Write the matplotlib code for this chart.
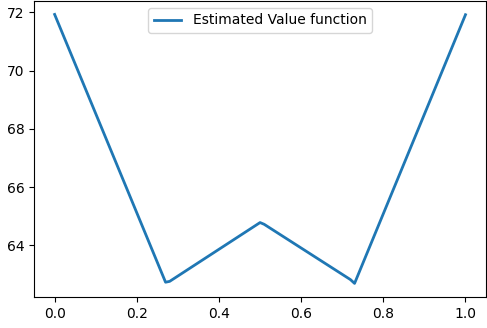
import matplotlib
matplotlib.use("Agg")
import matplotlib.pyplot as plt

# states and estimated values
states = [0.0, 0.27, 0.28, 0.50, 0.51, 0.72, 0.73, 1.0]
values = [71.93, 62.73, 62.76, 64.78, 64.72, 62.82, 62.69, 71.92]

fig, ax = plt.subplots(figsize=(4.87, 3.28), dpi=100)
ax.plot(states, values, color="#1f77b4", linewidth=2, label="Estimated Value function")
ax.set_yticks([64, 66, 68, 70, 72])
ax.legend(loc="upper center")

fig.subplots_adjust(left=0.07, right=0.998, top=0.997, bottom=0.095)
fig.savefig("out.png", dpi=100)
